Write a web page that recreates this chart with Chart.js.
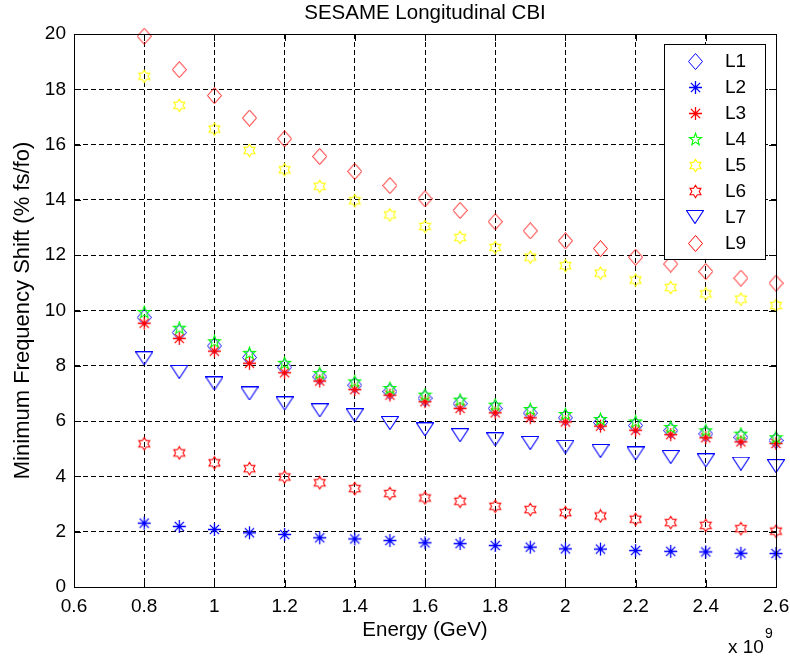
<!DOCTYPE html>
<html><head><meta charset="utf-8">
<script src="https://cdn.jsdelivr.net/npm/chart.js@4.4.0/dist/chart.umd.min.js"></script>
<style>html,body{margin:0;padding:0;background:#fff}</style>
</head><body>
<canvas id="c" width="790" height="659"></canvas>
<script>
// ---- data ----
const energy = [0.8, 0.9, 1.0, 1.1, 1.2, 1.3, 1.4, 1.5, 1.6, 1.7, 1.8, 1.9, 2.0, 2.1, 2.2, 2.3, 2.4, 2.5, 2.6];
const L1 = [9.75, 9.20, 8.72, 8.30, 7.95, 7.60, 7.30, 7.07, 6.83, 6.63, 6.46, 6.29, 6.12, 5.95, 5.84, 5.66, 5.54, 5.41, 5.30];
const L2 = [2.31, 2.19, 2.08, 1.96, 1.90, 1.78, 1.74, 1.68, 1.60, 1.57, 1.50, 1.44, 1.38, 1.37, 1.32, 1.29, 1.27, 1.22, 1.21];
const L3 = [9.54, 8.99, 8.53, 8.09, 7.75, 7.45, 7.14, 6.94, 6.70, 6.46, 6.30, 6.12, 5.97, 5.82, 5.67, 5.51, 5.40, 5.25, 5.19];
const L4 = [9.93, 9.36, 8.87, 8.45, 8.09, 7.72, 7.42, 7.18, 6.94, 6.76, 6.58, 6.42, 6.24, 6.06, 5.97, 5.77, 5.65, 5.53, 5.40];
const L5 = [18.47, 17.42, 16.56, 15.79, 15.09, 14.49, 13.97, 13.46, 13.04, 12.64, 12.28, 11.93, 11.62, 11.35, 11.10, 10.83, 10.60, 10.41, 10.18];
const L6 = [5.18, 4.85, 4.49, 4.28, 3.98, 3.77, 3.56, 3.38, 3.22, 3.10, 2.92, 2.80, 2.69, 2.57, 2.45, 2.33, 2.23, 2.11, 2.02];
const L7 = [8.27, 7.78, 7.36, 7.00, 6.64, 6.39, 6.21, 5.93, 5.70, 5.49, 5.34, 5.21, 5.07, 4.92, 4.83, 4.70, 4.58, 4.46, 4.37];
const L9 = [19.92, 18.71, 17.77, 16.96, 16.21, 15.57, 15.03, 14.52, 14.04, 13.62, 13.21, 12.88, 12.52, 12.24, 11.93, 11.68, 11.41, 11.17, 10.99];
const seriesNames = ['L1', 'L2', 'L3', 'L4', 'L5', 'L6', 'L7', 'L9'];
const seriesValues = [L1, L2, L3, L4, L5, L6, L7, L9];
const xTicks = [0.6, 0.8, 1.0, 1.2, 1.4, 1.6, 1.8, 2.0, 2.2, 2.4, 2.6];
const yTicks = [0, 2, 4, 6, 8, 10, 12, 14, 16, 18, 20];
const titleText = 'SESAME Longitudinal CBI';
const xLabel = 'Energy (GeV)';
const yLabel = 'Minimum Frequency Shift (% fs/fo)';
const xExponent = '9';

// ---- marker images ----
const FONT = '"Liberation Sans", Arial, sans-serif';
function mk(w, h, fn) { const c = document.createElement('canvas'); c.width = w; c.height = h; const g = c.getContext('2d'); fn(g, w, h); return c; }
function diamond(col) { return mk(15, 17, (g) => { g.strokeStyle = col; g.lineWidth = 1; g.beginPath(); g.moveTo(7.5, 0.5); g.lineTo(14.5, 8.5); g.lineTo(7.5, 16.5); g.lineTo(0.5, 8.5); g.closePath(); g.stroke(); }); }
function asterisk(col) { return mk(15, 15, (g) => { g.strokeStyle = col; g.fillStyle = col; g.lineWidth = 1.3; const c = 7.5, r = 6.5, d = 4.6; g.beginPath(); g.moveTo(c - r, c); g.lineTo(c + r, c); g.moveTo(c, c - r); g.lineTo(c, c + r); g.moveTo(c - d, c - d); g.lineTo(c + d, c + d); g.moveTo(c - d, c + d); g.lineTo(c + d, c - d); g.stroke(); g.beginPath(); g.arc(c, c, 1.9, 0, Math.PI * 2); g.fill(); }); }
function starN(col, n, ro, ri) { return mk(15, 15, (g) => { g.strokeStyle = col; g.lineWidth = 1.1; const c = 7.5; g.beginPath(); for (let k = 0; k < 2 * n; k++) { const r = k % 2 ? ri : ro; const a = -Math.PI / 2 + k * Math.PI / n; const x = c + r * Math.cos(a), y = c + r * Math.sin(a); k ? g.lineTo(x, y) : g.moveTo(x, y); } g.closePath(); g.stroke(); }); }
function triDown(col) { return mk(18, 14, (g) => { g.strokeStyle = col; g.lineWidth = 1.1; g.beginPath(); g.moveTo(0.5, 0.5); g.lineTo(17.5, 0.5); g.lineTo(9, 13.5); g.closePath(); g.stroke(); }); }

const markers = [
  diamond('#0000ff'), asterisk('#0000ff'), asterisk('#ff0000'), starN('#00ff00', 5, 6.3, 2.6),
  starN('#ffff00', 6, 6.3, 3.7), starN('#ff0000', 6, 6.3, 3.7), triDown('#0000ff'), diamond('#ff0000')
];
const colors = ['#0000ff', '#0000ff', '#ff0000', '#00ff00', '#ffff00', '#ff0000', '#0000ff', '#ff0000'];

const datasets = seriesNames.map((name, i) => ({
  label: name,
  data: energy.map((x, k) => ({ x: x, y: seriesValues[i][k] })),
  pointStyle: markers[i],
  borderColor: colors[i],
  backgroundColor: colors[i],
  showLine: false,
  clip: false,
  order: seriesNames.length - i
}));

// ---- plugins ----
const frame = {
  id: 'frame',
  afterDraw(chart) {
    const { ctx, chartArea: a, scales: { x, y } } = chart;
    ctx.save();
    // title
    ctx.fillStyle = '#000';
    ctx.font = '20.5px ' + FONT;
    ctx.textAlign = 'center'; ctx.textBaseline = 'middle';
    ctx.fillText(titleText, (a.left + a.right) / 2, 13);
    // frame + inward ticks
    ctx.strokeStyle = '#000'; ctx.lineWidth = 1; ctx.setLineDash([]);
    ctx.strokeRect(Math.round(a.left) + 0.5, Math.round(a.top) + 0.5, Math.round(a.right - a.left), Math.round(a.bottom - a.top));
    const t = 7;
    ctx.beginPath();
    xTicks.forEach(v => { const px = Math.round(x.getPixelForValue(v)) + 0.5; ctx.moveTo(px, a.bottom); ctx.lineTo(px, a.bottom - t); ctx.moveTo(px, a.top); ctx.lineTo(px, a.top + t); });
    yTicks.forEach(v => { const py = Math.round(y.getPixelForValue(v)) + 0.5; ctx.moveTo(a.left, py); ctx.lineTo(a.left + t, py); ctx.moveTo(a.right, py); ctx.lineTo(a.right - t, py); });
    ctx.stroke();
    // exponent label
    ctx.textAlign = 'left'; ctx.textBaseline = 'alphabetic';
    ctx.font = '19px ' + FONT;
    ctx.fillText('x 10', a.right - 48, 653);
    ctx.font = '14px ' + FONT;
    ctx.fillText(xExponent, a.right - 11, 638);
    // legend
    const L = Math.round(a.right) - 112, T = Math.round(a.top) + 10, W = 101, H = 215;
    ctx.fillStyle = '#fff';
    ctx.fillRect(L, T, W, H);
    ctx.strokeRect(L + 0.5, T + 0.5, W, H);
    ctx.font = '19px ' + FONT;
    ctx.textBaseline = 'middle';
    chart.data.datasets.forEach((ds, i) => {
      const cy = T + 17 + i * 26;
      const img = ds.pointStyle;
      ctx.drawImage(img, Math.round(L + 31 - img.width / 2), Math.round(cy - img.height / 2));
      ctx.fillStyle = '#000';
      ctx.fillText(ds.label, L + 61, cy + 1);
    });
    ctx.restore();
  }
};

new Chart(document.getElementById('c'), {
  type: 'scatter',
  data: { datasets },
  options: {
    responsive: false,
    animation: false,
    devicePixelRatio: 1,
    layout: { padding: { left: 0, right: 14, top: 34, bottom: 0 } },
    elements: { point: { radius: 7, hoverRadius: 7 } },
    plugins: {
      legend: { display: false },
      tooltip: { enabled: false },
      title: { display: false }
    },
    scales: {
      x: {
        type: 'linear', min: 0.6, max: 2.6,
        afterBuildTicks: s => { s.ticks = xTicks.map(v => ({ value: v })); },
        afterFit: s => { s.height = 72; s.paddingLeft = 0; s.paddingRight = 0; },
        ticks: { color: '#000', font: { family: FONT, size: 19 }, padding: 8, maxRotation: 0, autoSkip: false, callback: v => String(Number(v.toFixed(1))) },
        grid: { color: '#000', lineWidth: 1, drawTicks: false },
        border: { display: true, color: '#000', width: 1, dash: [5, 3] },
        title: { display: true, text: xLabel, color: '#000', font: { family: FONT, size: 20.5 }, padding: { top: 0, bottom: 16 } }
      },
      y: {
        type: 'linear', min: 0, max: 20,
        afterBuildTicks: s => { s.ticks = yTicks.map(v => ({ value: v })); },
        afterFit: s => { s.width = 74; s.paddingTop = 0; s.paddingBottom = 0; },
        ticks: { color: '#000', font: { family: FONT, size: 19 }, padding: 8, autoSkip: false, callback: v => String(v) },
        grid: { color: '#000', lineWidth: 1, drawTicks: false },
        border: { display: true, color: '#000', width: 1, dash: [5, 3] },
        title: { display: true, text: yLabel, color: '#000', font: { family: FONT, size: 22 }, padding: { top: 10, bottom: 0 } }
      }
    }
  },
  plugins: [frame]
});
</script>
</body></html>
